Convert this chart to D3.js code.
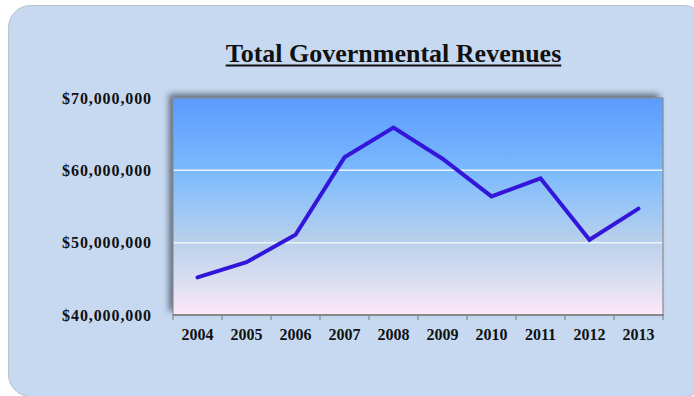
<!DOCTYPE html>
<html>
<head>
<meta charset="utf-8">
<script src="https://cdn.jsdelivr.net/npm/d3@7"></script>
<style>
  html, body { margin: 0; padding: 0; background: #ffffff; }
  svg { display: block; }
</style>
</head>
<body>
<svg id="chart" width="694" height="396"></svg>
<script>
// Total governmental revenues by fiscal year (US dollars)
const years = ["2004", "2005", "2006", "2007", "2008", "2009", "2010", "2011", "2012", "2013"];
const revenues = [45200000, 47300000, 51100000, 61800000, 65900000, 61600000, 56400000, 58900000, 50400000, 54700000];
const yTicks = [40000000, 50000000, 60000000, 70000000];
const chartTitle = "Total Governmental Revenues";

const svg = d3.select("#chart");
const plot = { left: 173, top: 98, right: 663, bottom: 315 };
const serif = "'Liberation Serif', 'DejaVu Serif', serif";

const defs = svg.append("defs");

const grad = defs.append("linearGradient")
  .attr("id", "plotFill").attr("x1", 0).attr("y1", 0).attr("x2", 0).attr("y2", 1);
[
  [0, "#5b9bfe"],
  [0.33, "#7bb9fd"],
  [0.5, "#9ac6f6"],
  [0.66, "#b9d0eb"],
  [0.85, "#dcdff2"],
  [1, "#fde8f8"]
].forEach(([o, c]) => grad.append("stop").attr("offset", o).attr("stop-color", c));

const shadow = defs.append("filter").attr("id", "plotShadow")
  .attr("x", "-10%").attr("y", "-10%").attr("width", "120%").attr("height", "120%");
shadow.append("feDropShadow")
  .attr("dx", -4).attr("dy", -4).attr("stdDeviation", 3)
  .attr("flood-color", "#3a4656").attr("flood-opacity", 0.75);

// Rounded background panel (runs past the right and bottom edges)
svg.append("rect")
  .attr("x", 8.5).attr("y", 5.5)
  .attr("width", 697).attr("height", 391)
  .attr("rx", 22).attr("ry", 22)
  .attr("fill", "#c6d9f1")
  .attr("stroke", "#b9c2cd").attr("stroke-width", 1);

// Title
const title = svg.append("text")
  .attr("x", 393.5).attr("y", 62)
  .attr("text-anchor", "middle")
  .attr("font-family", serif)
  .attr("font-weight", "bold")
  .attr("font-size", 26)
  .attr("fill", "#111")
  .text(chartTitle);
const tb = title.node().getBBox();
svg.append("line")
  .attr("x1", tb.x).attr("x2", tb.x + tb.width)
  .attr("y1", 65.5).attr("y2", 65.5)
  .attr("stroke", "#111").attr("stroke-width", 2);

// Scales
const x = d3.scaleBand().domain(years).range([plot.left, plot.right]).padding(0);
const y = d3.scaleLinear().domain([40000000, 70000000]).range([plot.bottom, plot.top]);

// Plot area with shadow
svg.append("rect")
  .attr("x", plot.left).attr("y", plot.top)
  .attr("width", plot.right - plot.left).attr("height", plot.bottom - plot.top)
  .attr("fill", "url(#plotFill)")
  .attr("filter", "url(#plotShadow)");

// Horizontal gridlines
svg.append("g")
  .selectAll("line")
  .data(yTicks.filter(t => t > 40000000 && t < 70000000))
  .join("line")
  .attr("x1", plot.left).attr("x2", plot.right)
  .attr("y1", d => y(d)).attr("y2", d => y(d))
  .attr("stroke", "#eef4fb").attr("stroke-width", 1.5);

// Plot border
svg.append("rect")
  .attr("x", plot.left).attr("y", plot.top)
  .attr("width", plot.right - plot.left).attr("height", plot.bottom - plot.top)
  .attr("fill", "none")
  .attr("stroke", "#8c8c8c").attr("stroke-width", 1.2);

// Y axis labels
const fmt = d3.format("$,.0f");
const yAxis = d3.axisLeft(y).tickValues(yTicks).tickSize(0).tickPadding(21).tickFormat(fmt);
const gy = svg.append("g").attr("transform", `translate(${plot.left},0)`).call(yAxis);
gy.select(".domain").remove();
gy.selectAll("text")
  .attr("font-family", serif)
  .attr("font-weight", "bold")
  .attr("font-size", 16)
  .attr("letter-spacing", 0.9)
  .attr("fill", "#111");

// X axis: line, ticks at category boundaries, year labels centred in each band
const gx = svg.append("g").attr("transform", `translate(0,${plot.bottom})`);
gx.append("line")
  .attr("x1", plot.left).attr("x2", plot.right + 1)
  .attr("y1", 0).attr("y2", 0)
  .attr("stroke", "#878787").attr("stroke-width", 2);
const boundaries = years.map(d => x(d)).concat([plot.right]);
gx.selectAll("line.tick")
  .data(boundaries)
  .join("line")
  .attr("class", "tick")
  .attr("x1", d => d).attr("x2", d => d)
  .attr("y1", 0).attr("y2", 5)
  .attr("stroke", "#878787").attr("stroke-width", 1.2);
gx.selectAll("text")
  .data(years)
  .join("text")
  .attr("x", d => x(d) + x.bandwidth() / 2)
  .attr("y", 25)
  .attr("text-anchor", "middle")
  .attr("font-family", serif)
  .attr("font-weight", "bold")
  .attr("font-size", 16)
  .attr("fill", "#111")
  .text(d => d);

// Revenue line
const line = d3.line()
  .x((d, i) => x(years[i]) + x.bandwidth() / 2)
  .y(d => y(d));
svg.append("path")
  .datum(revenues)
  .attr("d", line)
  .attr("fill", "none")
  .attr("stroke", "#3316d9")
  .attr("stroke-width", 4)
  .attr("stroke-linejoin", "miter")
  .attr("stroke-linecap", "round");
</script>
</body>
</html>
